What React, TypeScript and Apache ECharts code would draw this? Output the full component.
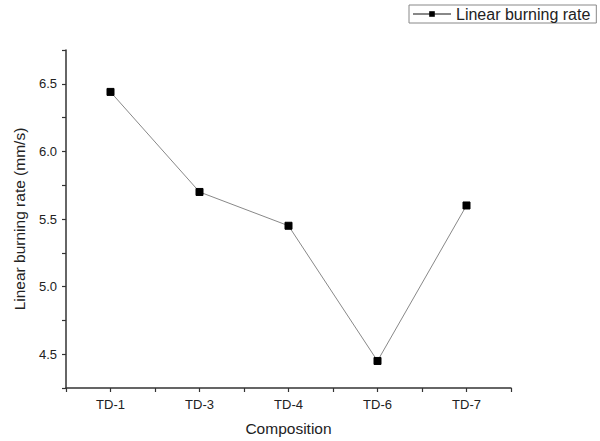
import React, { useEffect, useRef } from "react";
import * as echarts from "echarts";

const categories = ["TD-1", "TD-3", "TD-4", "TD-6", "TD-7"];
const burningRate = [6.44, 5.7, 5.45, 4.45, 5.6];
const seriesName = "Linear burning rate";

export default function App() {
  const ref = useRef<HTMLDivElement>(null);
  useEffect(() => {
    if (!ref.current) return;
    const chart = echarts.init(ref.current, null, { renderer: "svg" });
    const font = "Liberation Sans, Arial, sans-serif";
    chart.setOption({
      animation: false,
      backgroundColor: "#ffffff",
      textStyle: { fontFamily: font },
      legend: {
        data: [seriesName],
        left: 409,
        top: 5,
        orient: "horizontal",
        borderColor: "#888",
        borderWidth: 1,
        borderRadius: 0,
        padding: [1, 6, 1, 3],
        itemWidth: 38,
        itemHeight: 7,
        itemGap: 4,
        textStyle: { fontSize: 16, color: "#222", fontFamily: font },
      },
      grid: { left: 66, right: 89, top: 50, bottom: 50, containLabel: false },
      xAxis: {
        type: "value",
        min: 0.5,
        max: 5.5,
        interval: 0.5,
        name: "Composition",
        nameLocation: "middle",
        nameGap: 32,
        nameTextStyle: { fontSize: 15.5, color: "#222", fontFamily: font },
        axisLine: { show: true, lineStyle: { color: "#333", width: 1.5 } },
        axisTick: { show: true, inside: false, length: 4, lineStyle: { color: "#333", width: 1.2 } },
        splitLine: { show: false },
        axisLabel: {
          fontSize: 13,
          color: "#222",
          margin: 10,
          formatter: (v: number) => {
            const i = Math.round(v);
            return Math.abs(v - i) < 1e-6 && i >= 1 && i <= categories.length ? categories[i - 1] : "";
          },
        },
      },
      yAxis: {
        type: "value",
        min: 4.25,
        max: 6.75,
        interval: 0.25,
        name: "Linear burning rate (mm/s)",
        nameLocation: "middle",
        nameGap: 39,
        nameTextStyle: { fontSize: 15.5, color: "#222", fontFamily: font },
        axisLine: { show: true, lineStyle: { color: "#333", width: 1.5 } },
        axisTick: { show: true, inside: false, length: 4, lineStyle: { color: "#333", width: 1.2 } },
        splitLine: { show: false },
        axisLabel: {
          fontSize: 13,
          color: "#222",
          margin: 9,
          formatter: (v: number) => {
            const r = Math.round(v * 2);
            return Math.abs(v * 2 - r) < 1e-6 && v > 4.3 && v < 6.7 ? v.toFixed(1) : "";
          },
        },
      },
      series: [
        {
          name: seriesName,
          type: "line",
          data: burningRate.map((v, i) => [i + 1, v]),
          symbol: "rect",
          symbolSize: 7,
          lineStyle: { color: "#888", width: 1 },
          itemStyle: { color: "#000", borderColor: "#000" },
        },
      ],
    });
    return () => chart.dispose();
  }, []);
  return (
    <div
      ref={ref}
      style={{ position: "fixed", left: 0, top: 0, width: 600, height: 441 }}
    />
  );
}
